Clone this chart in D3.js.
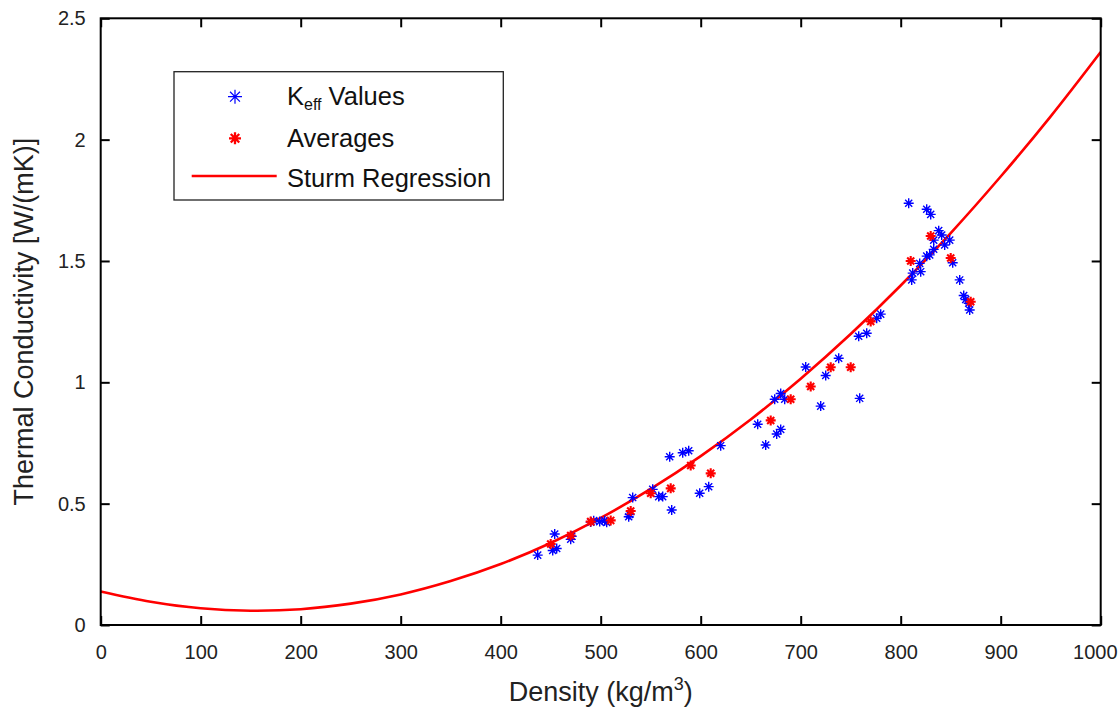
<!DOCTYPE html>
<html>
<head>
<meta charset="utf-8">
<script src="https://cdn.jsdelivr.net/npm/d3@7"></script>
<style>
  body { margin: 0; background: #fff; }
  svg { display: block; font-family: "Liberation Sans", Arial, sans-serif; }
</style>
</head>
<body>
<svg id="chart" width="1118" height="708"></svg>
<script>
// ---- data ----
const keffDensity = [437, 454, 452, 456, 470, 471, 490, 493, 499, 504, 506, 528, 529, 532,
  552, 558, 562, 569, 571, 582, 588, 599, 608, 620, 657, 665, 676, 680, 674, 680, 684,
  705, 720, 725, 738, 759, 758, 766, 776, 780, 808, 826, 830, 838, 841, 833, 849, 844,
  833, 829, 826, 819, 820, 812, 811, 852, 859, 863, 865, 868, 869];
const keffValues = [0.288, 0.375, 0.307, 0.315, 0.353, 0.366, 0.424, 0.430, 0.426, 0.430, 0.423, 0.446, 0.455, 0.525,
  0.559, 0.529, 0.529, 0.693, 0.474, 0.710, 0.718, 0.543, 0.570, 0.739, 0.827, 0.742, 0.787, 0.806, 0.930, 0.954, 0.930,
  1.063, 0.902, 1.028, 1.099, 0.934, 1.190, 1.202, 1.264, 1.281, 1.738, 1.713, 1.692, 1.625, 1.607, 1.586, 1.586, 1.566,
  1.548, 1.525, 1.520, 1.490, 1.456, 1.450, 1.422, 1.493, 1.422, 1.358, 1.341, 1.326, 1.298];

const avgDensity = [450, 470, 490, 510, 530, 550, 570, 590, 610, 670, 690, 710, 730, 750, 770, 810, 830, 850, 870];
const avgValues  = [0.334, 0.369, 0.426, 0.431, 0.470, 0.543, 0.563, 0.657, 0.625, 0.843, 0.930, 0.983, 1.062, 1.062, 1.251, 1.500, 1.603, 1.512, 1.332];

// Sturm regression curve, read at every 50 kg/m3
const curveDensity = [0, 50, 100, 150, 200, 250, 300, 350, 400, 450, 500, 550, 600, 650, 700, 750, 800, 850, 900, 950, 1000];
const curveValues  = [0.138, 0.096, 0.069, 0.059, 0.065, 0.088, 0.126, 0.181, 0.251, 0.338, 0.441, 0.561, 0.696, 0.847, 1.015, 1.199, 1.399, 1.615, 1.848, 2.096, 2.361];

const xTicks = [0, 100, 200, 300, 400, 500, 600, 700, 800, 900, 1000];
const yTicks = [0, 0.5, 1, 1.5, 2, 2.5];
const yTickLabels = ["0", "0.5", "1", "1.5", "2", "2.5"];

const seriesNames = ["K", "Averages", "Sturm Regression"];

// ---- layout ----
const svg = d3.select("#chart");
const L = 100.7, R = 1100.7, T = 18.3, B = 625;
const x = d3.scaleLinear().domain([0, 1000]).range([L, R]);
const y = d3.scaleLinear().domain([0, 2.5]).range([B, T]);
const tickLen = 9;

const line = d3.line().x((d, i) => x(curveDensity[i])).y(d => y(d)).curve(d3.curveCatmullRom);

svg.append("clipPath").attr("id", "plotclip")
  .append("rect").attr("x", L).attr("y", T).attr("width", R - L).attr("height", B - T);

function asterisk(r) {
  const d = r * Math.SQRT1_2;
  return `M${-r},0L${r},0M0,${-r}L0,${r}M${-d},${-d}L${d},${d}M${-d},${d}L${d},${-d}`;
}

const plot = svg.append("g").attr("clip-path", "url(#plotclip)");

plot.append("path")
  .datum(curveValues)
  .attr("d", line)
  .attr("fill", "none")
  .attr("stroke", "#ff0000")
  .attr("stroke-width", 2.6);

plot.append("g").selectAll("path")
  .data(keffValues)
  .join("path")
  .attr("transform", (d, i) => `translate(${x(keffDensity[i])},${y(d)})`)
  .attr("d", asterisk(5))
  .attr("stroke", "#0000ff")
  .attr("stroke-width", 1.4)
  .attr("fill", "none");

plot.append("g").selectAll("path")
  .data(avgValues)
  .join("path")
  .attr("transform", (d, i) => `translate(${x(avgDensity[i])},${y(d)})`)
  .attr("d", asterisk(5))
  .attr("stroke", "#ff0000")
  .attr("stroke-width", 2.1)
  .attr("fill", "none");

// axes (ticks inward on all sides)
const axB = d3.axisBottom(x).tickValues(xTicks).tickSizeInner(-tickLen).tickSizeOuter(0).tickPadding(20).tickFormat(d3.format("d"));
const axT = d3.axisTop(x).tickValues(xTicks).tickSizeInner(-tickLen).tickSizeOuter(0).tickFormat("");
const axL = d3.axisLeft(y).tickValues(yTicks).tickSizeInner(-tickLen).tickSizeOuter(0).tickPadding(15).tickFormat((d, i) => yTickLabels[i]);
const axR = d3.axisRight(y).tickValues(yTicks).tickSizeInner(-tickLen).tickSizeOuter(0).tickFormat("");

function styleAxis(g) {
  g.select(".domain").remove();
  g.selectAll(".tick line").attr("stroke", "#000").attr("stroke-width", 2);
  g.selectAll(".tick text").attr("fill", "#222").attr("font-size", 20).attr("font-family", "Liberation Sans, Arial, sans-serif");
}
const gB = svg.append("g").attr("transform", `translate(0,${B})`).call(axB).call(styleAxis);
gB.selectAll(".tick text").filter(d => d === 1000).attr("text-anchor", "end").attr("dx", 1117 - R);
svg.append("g").attr("transform", `translate(0,${T})`).call(axT).call(styleAxis);
svg.append("g").attr("transform", `translate(${L},0)`).call(axL).call(styleAxis);
svg.append("g").attr("transform", `translate(${R},0)`).call(axR).call(styleAxis);

svg.append("rect").attr("x", L).attr("y", T).attr("width", R - L).attr("height", B - T)
  .attr("fill", "none").attr("stroke", "#000").attr("stroke-width", 2);

// axis titles
const xt = svg.append("text").attr("x", (L + R) / 2).attr("y", 701)
  .attr("text-anchor", "middle").attr("font-size", 27).attr("fill", "#222");
xt.append("tspan").text("Density (kg/m");
xt.append("tspan").text("3").attr("font-size", 18).attr("dy", -11);
xt.append("tspan").text(")").attr("dy", 11);

svg.append("text")
  .attr("transform", `translate(33,${(T + B) / 2}) rotate(-90)`)
  .attr("text-anchor", "middle").attr("font-size", 27).attr("fill", "#222")
  .text("Thermal Conductivity [W/(mK)]");

// legend
const lg = svg.append("g");
lg.append("rect").attr("x", 174).attr("y", 71.7).attr("width", 329.3).attr("height", 128.3)
  .attr("fill", "#fff").attr("stroke", "#222").attr("stroke-width", 1.3);
lg.append("path").attr("transform", `translate(235,96.7)`).attr("d", asterisk(7))
  .attr("stroke", "#0000ff").attr("stroke-width", 1.2).attr("fill", "none");
lg.append("path").attr("transform", `translate(235,138.3)`).attr("d", asterisk(6))
  .attr("stroke", "#ff0000").attr("stroke-width", 2.3).attr("fill", "none");
lg.append("line").attr("x1", 191.7).attr("x2", 276.7).attr("y1", 176).attr("y2", 176)
  .attr("stroke", "#ff0000").attr("stroke-width", 2.4);

const t1 = lg.append("text").attr("x", 287).attr("y", 105).attr("font-size", 25.5).attr("fill", "#111");
t1.append("tspan").text(seriesNames[0]);
t1.append("tspan").text("eff").attr("font-size", 16).attr("dy", 5);
t1.append("tspan").text(" Values").attr("dy", -5);
lg.append("text").attr("x", 287).attr("y", 146.5).attr("font-size", 25.5).attr("fill", "#111").text(seriesNames[1]);
lg.append("text").attr("x", 287).attr("y", 187).attr("font-size", 25.5).attr("fill", "#111").text(seriesNames[2]);
</script>
</body>
</html>
